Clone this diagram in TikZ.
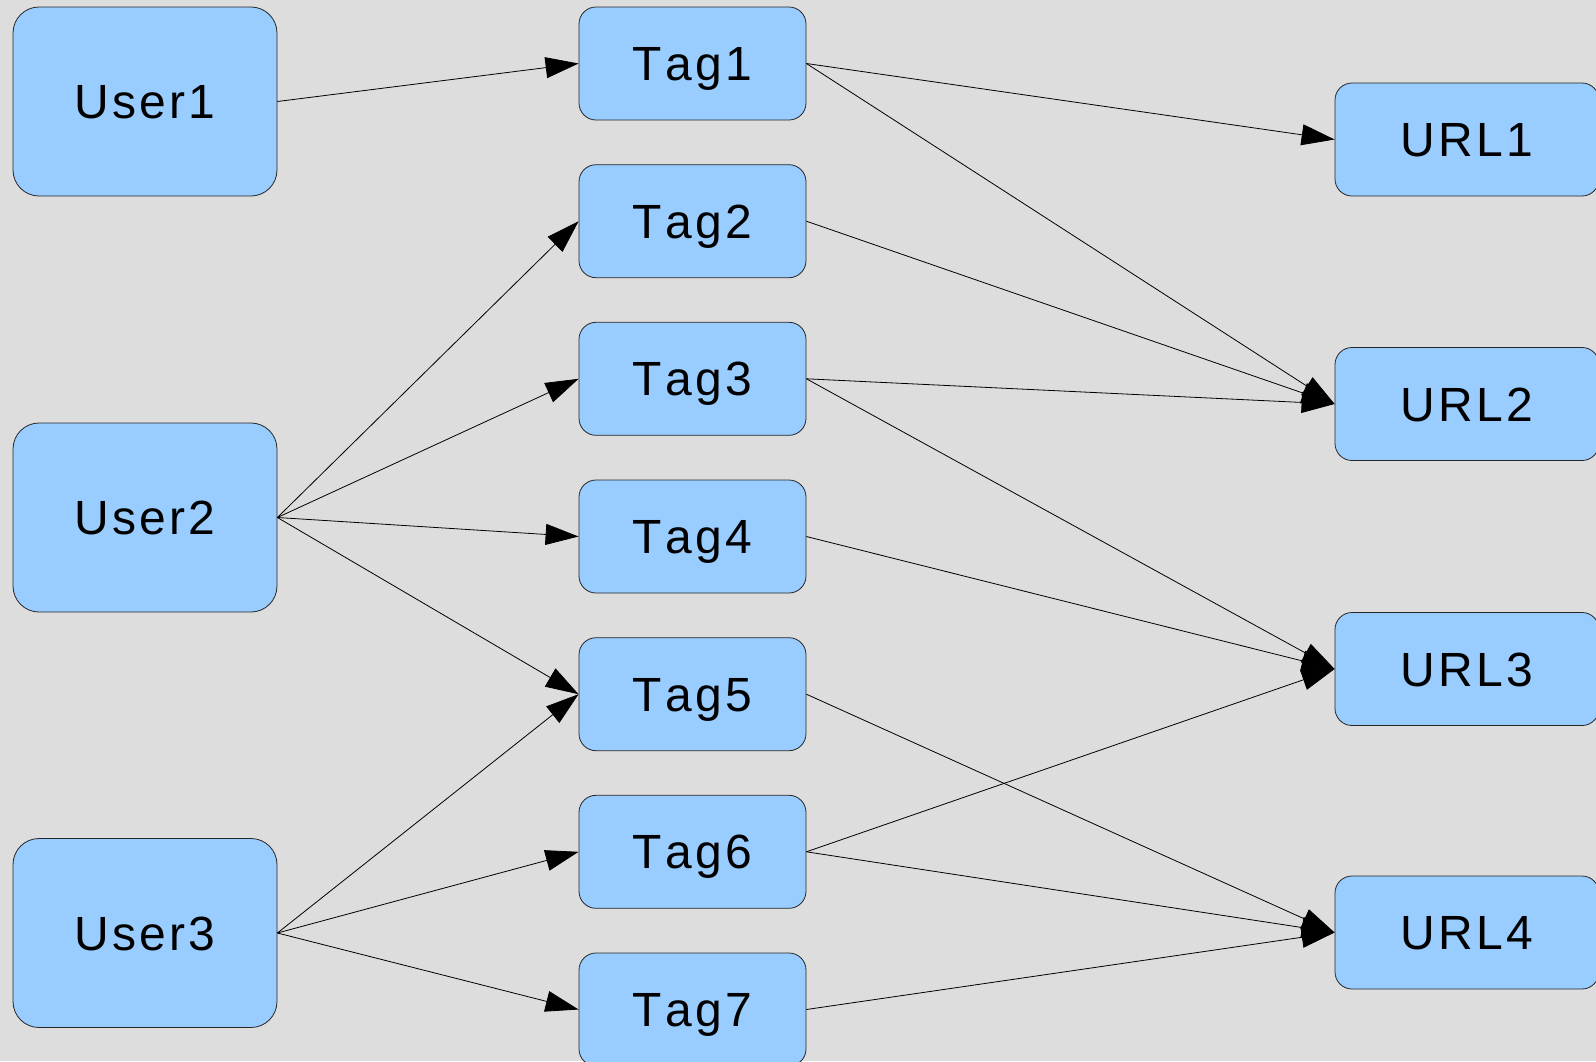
\documentclass[tikz,border=0pt]{standalone}
\usepackage{fontspec}
\setmainfont{Liberation Sans}[LetterSpace=7,Kerning=Off]
\usetikzlibrary{arrows.meta}

\definecolor{bleu}{HTML}{99CCFF}
\definecolor{fond}{HTML}{DDDDDD}

\tikzset{
  boite/.style={draw=black!85, fill=bleu, line width=0.8pt, rounded corners=17pt,
    inner sep=0pt, text height=34pt, text depth=0pt, font=\fontsize{48}{56}\selectfont},
  user/.style={boite, minimum width=264pt, minimum height=189pt, rounded corners=26pt},
  tag/.style={boite, minimum width=227pt, minimum height=113pt},
  url/.style={boite, minimum width=264pt, minimum height=113pt},
  fleche/.style={line width=0.8pt, -{Triangle[length=33pt,width=21pt]}}
}

\begin{document}
\begin{tikzpicture}[x=1pt,y=-1pt]
%fond gris
\fill[fond] (0,0) rectangle (1596,1061);
\useasboundingbox (0,0) rectangle (1596,1061);

%utilisateurs
\node[user] (user1) at (145,101.5) {User1};
\node[user] (user2) at (145,517.5) {User2};
\node[user] (user3) at (145,933) {User3};

%tags
\node[tag] (tag1) at (692.5,63.5) {Tag1};
\node[tag] (tag2) at (692.5,221.2) {Tag2};
\node[tag] (tag3) at (692.5,378.8) {Tag3};
\node[tag] (tag4) at (692.5,536.5) {Tag4};
\node[tag] (tag5) at (692.5,694.2) {Tag5};
\node[tag] (tag6) at (692.5,851.8) {Tag6};
\node[tag] (tag7) at (692.5,1009.5) {Tag7};

%urls
\node[url] (url1) at (1467,139.5) {URL1};
\node[url] (url2) at (1467,404) {URL2};
\node[url] (url3) at (1467,669) {URL3};
\node[url] (url4) at (1467,932.5) {URL4};

%utilisateur -> tag
\draw[fleche] (user1.east) -- (tag1.west);
\foreach \t in {2,3,4,5}
  \draw[fleche] (user2.east) -- (tag\t.west);
\foreach \t in {5,6,7}
  \draw[fleche] (user3.east) -- (tag\t.west);

%tag -> url
\foreach \t/\u in {1/1,1/2,2/2,3/2,3/3,4/3,6/3,5/4,6/4,7/4}
  \draw[fleche] (tag\t.east) -- (url\u.west);

\end{tikzpicture}
\end{document}
